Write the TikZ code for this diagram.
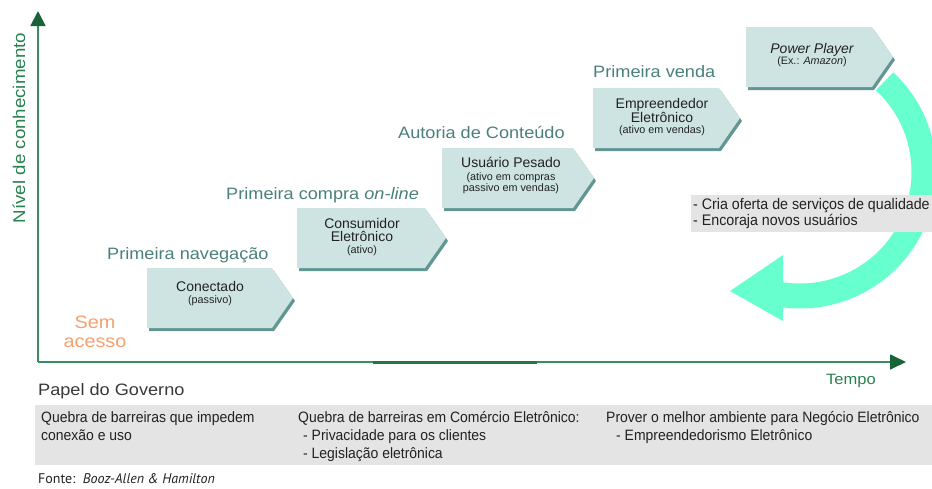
\documentclass[tikz,border=0pt]{standalone}
\usepackage{fontspec}
\setmainfont{Liberation Sans}
\newfontfamily\fwide[FakeStretch=1.1]{Liberation Sans}
\newfontfamily\fnarrow[FakeStretch=0.93]{Liberation Sans}
\newfontfamily\fgill{PT Sans}
\usetikzlibrary{arrows.meta}
\definecolor{boxc}{RGB}{205,228,226}
\definecolor{shadc}{RGB}{98,150,146}
\definecolor{stagec}{RGB}{74,128,124}
\definecolor{axisc}{RGB}{60,140,98}
\definecolor{axisd}{RGB}{38,118,76}
\definecolor{tipc}{RGB}{25,100,55}
\definecolor{mintc}{RGB}{104,255,206}
\definecolor{grayc}{RGB}{228,228,228}
\definecolor{orangec}{RGB}{246,160,112}
\definecolor{txtc}{RGB}{34,34,34}
\definecolor{greentxt}{RGB}{40,130,80}
\newcommand\fs[1]{\fontsize{#1}{#1}\selectfont}
\newcommand\stagebox[3]{%
  \fill[shadc] (#1+2,-#2-3) -- (#1+2+#3,-#2-3) -- (#1+2+#3+21,-#2-33) -- (#1+2+#3,-#2-63) -- (#1+2,-#2-63) -- cycle;
  \fill[boxc] (#1,-#2) -- (#1+#3,-#2) -- (#1+#3+21,-#2-30) -- (#1+#3,-#2-60) -- (#1,-#2-60) -- cycle;
}
\begin{document}
\begin{tikzpicture}[x=1pt,y=1pt,
  stage/.style={anchor=base west, inner sep=0pt, text=stagec, font=\fwide\fs{16.5}},
  boxmain/.style={anchor=base, inner sep=0pt, text=txtc, font=\fs{14}},
  boxsmall/.style={anchor=base, inner sep=0pt, text=txtc, font=\fs{10.8}},
  govtxt/.style={anchor=base west, inner sep=0pt, text=txtc, font=\fnarrow\fs{15}},
  axisline/.style={axisc, line width=1.8pt},
  ]
\useasboundingbox (0,0) rectangle (932,-488);

% axes
\coordinate (O) at (38,-362);
\coordinate (Ytop) at (38,-11);
\coordinate (Xend) at (906,-362);
\coordinate (S1) at (373,-362.5);
\coordinate (S2) at (537,-362.5);
\draw[axisline, -{Triangle[length=15pt,width=15pt,color=tipc]}] (O) -- (Ytop);
\draw[axisline, -{Triangle[length=16pt,width=15pt,color=tipc]}] (O) -- (Xend);
\draw[axisd, line width=3.5pt] (S1) -- (S2);

\node[rotate=90, inner sep=0pt, text=greentxt, font=\fwide\fs{17}] (ylab) at (19,-128) {Nível de conhecimento};
\node[anchor=base west, inner sep=0pt, text=greentxt, font=\fwide\fs{15}] (tempo) at (826,-384) {Tempo};

% curved mint arrow
\coordinate (C) at (800,-172);
\draw[mintc, line width=25pt] (C) ++(47:124) arc[start angle=47, end angle=-100, radius=124];
\coordinate (tip) at (730,-291);
\fill[mintc] (tip) -- (783,-255) -- (783,-321) -- cycle;

% gray note at right
\fill[grayc] (691,-195) rectangle (932,-232);
\node[govtxt, font=\fnarrow\fs{15.3}] (cria) at (693,-209) {- Cria oferta de serviços de qualidade};
\node[govtxt, font=\fnarrow\fs{15.3}] (encor) at (693,-225) {- Encoraja novos usuários};

% stage boxes
\stagebox{147}{268}{125}
\stagebox{297}{208}{128}
\stagebox{442}{148}{131}
\stagebox{593}{88}{126}
\stagebox{746}{27}{126}

\node[boxmain] (b1) at (210,-291) {Conectado};
\node[boxsmall] (b1s) at (210,-303) {(passivo)};

\node[boxmain] (b2a) at (362,-228) {Consumidor};
\node[boxmain] (b2b) at (362,-241) {Eletrônico};
\node[boxsmall] (b2s) at (362,-253) {(ativo)};

\node[boxmain] (b3) at (511,-167) {Usuário Pesado};
\node[boxsmall] (b3s) at (511,-180) {(ativo em compras};
\node[boxsmall] (b3t) at (511,-191) {passivo em vendas)};

\node[boxmain] (b4a) at (662,-108.5) {Empreendedor};
\node[boxmain] (b4b) at (662,-122) {Eletrônico};
\node[boxsmall] (b4s) at (662,-133.5) {(ativo em vendas)};

\node[boxmain, font=\itshape\fs{14}] (b5) at (812,-53) {Power Player};
\node[boxsmall] (b5s) at (812,-64) {(Ex.: \textit{Amazon})};

% stage labels
\node[stage] (l1) at (107,-259) {Primeira navegação};
\node[stage] (l2) at (226,-199) {Primeira compra \textit{on-line}};
\node[stage] (l3) at (398,-138) {Autoria de Conteúdo};
\node[stage] (l4) at (593,-77) {Primeira venda};

\node[anchor=base, inner sep=0pt, text=orangec, font=\fwide\fs{18}] (sem1) at (95,-328) {Sem};
\node[anchor=base, inner sep=0pt, text=orangec, font=\fwide\fs{18}] (sem2) at (95,-347) {acesso};

% government role
\node[anchor=base west, inner sep=0pt, text=txtc!90, font=\fwide\fs{16.5}] (papel) at (38,-395) {Papel do Governo};
\fill[grayc] (35,-405) rectangle (932,-465);
\node[govtxt] (g1a) at (41,-422) {Quebra de barreiras que impedem};
\node[govtxt] (g1b) at (41,-440) {conexão e uso};
\node[govtxt] (g2a) at (298,-422) {Quebra de barreiras em Comércio Eletrônico:};
\node[govtxt] (g2b) at (303,-440) {- Privacidade para os clientes};
\node[govtxt] (g2c) at (303,-458) {- Legislação eletrônica};
\node[govtxt] (g3a) at (606,-422) {Prover o melhor ambiente para Negócio Eletrônico};
\node[govtxt] (g3b) at (616,-440) {- Empreendedorismo Eletrônico};

\node[anchor=base west, inner sep=0pt, text=txtc, font=\fgill\fs{14}] (fonte) at (38,-483) {Fonte:\ \ \textit{Booz-Allen \& Hamilton}};
\end{tikzpicture}
\end{document}
